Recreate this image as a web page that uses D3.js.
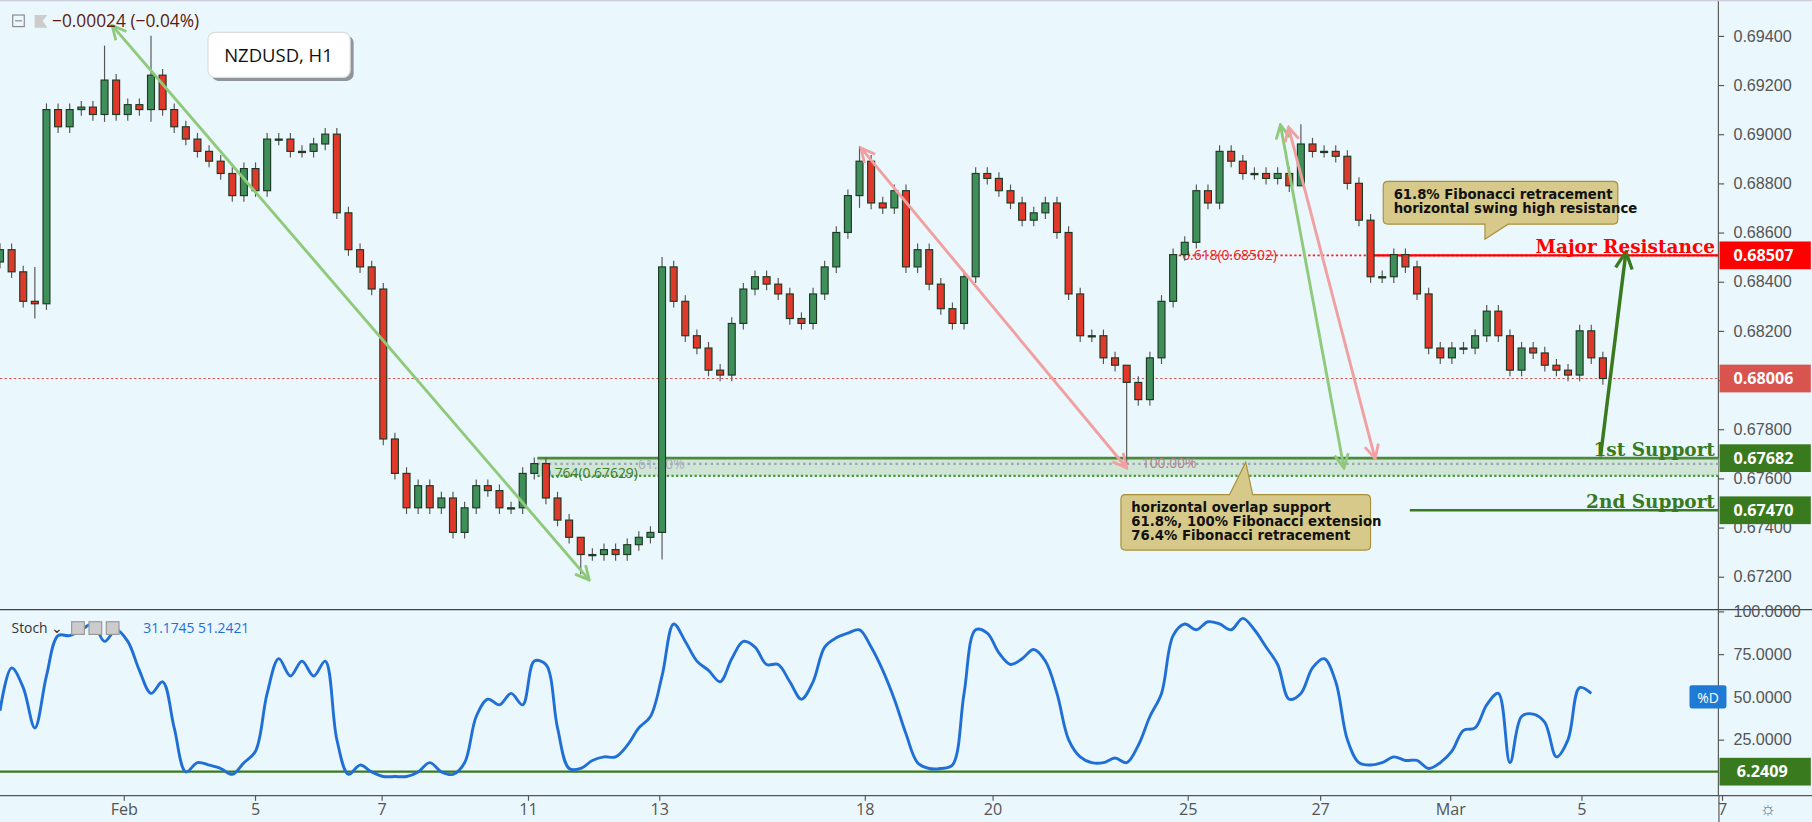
<!DOCTYPE html><html><head><meta charset="utf-8"><script src="https://cdn.jsdelivr.net/npm/d3@7"></script>
<style>body{margin:0;background:#eaf7fd;}svg{display:block;font-family:"Open Sans",sans-serif;}</style></head><body><svg id="c" width="1812" height="822"></svg><script>
const closes=[0.6853,0.6844,0.6832,0.6831,0.6910,0.6903,0.6910,0.6911,0.6908,0.6922,0.6908,0.6912,0.6910,0.6924,0.6910,0.6903,0.6898,0.6893,0.6889,0.6884,0.6875,0.6886,0.6877,0.6898,0.6898,0.6893,0.6893,0.6896,0.6900,0.6868,0.6853,0.6846,0.6837,0.6776,0.6762,0.6748,0.6757,0.6748,0.6752,0.6738,0.6748,0.6757,0.6755,0.6748,0.6748,0.6762,0.6766,0.6752,0.6743,0.6736,0.6729,0.6729,0.6731,0.6729,0.6733,0.6736,0.6738,0.6846,0.6832,0.6818,0.6813,0.6804,0.6802,0.6823,0.6837,0.6842,0.6839,0.6835,0.6825,0.6823,0.6835,0.6846,0.6860,0.6875,0.6889,0.6872,0.6870,0.6877,0.6846,0.6853,0.6839,0.6829,0.6823,0.6842,0.6884,0.6882,0.6877,0.6872,0.6865,0.6868,0.6872,0.6860,0.6835,0.6818,0.6818,0.6809,0.6806,0.6799,0.6792,0.6809,0.6832,0.6851,0.6856,0.6877,0.6872,0.6893,0.6889,0.6884,0.6884,0.6882,0.6884,0.6879,0.6896,0.6893,0.6893,0.6891,0.6880,0.6865,0.6842,0.6842,0.6851,0.6846,0.6835,0.6813,0.6809,0.6813,0.6813,0.6818,0.6828,0.6818,0.6804,0.6813,0.6811,0.6806,0.6804,0.6802,0.6820,0.6809,0.68006];
const firstOpen=0.6848;
const extremes=[[3,0.6846,0.6825],[9,0.6936,0.6905],[13,0.6940,0.6905],[50,0.6736,0.6721],[57,0.6850,0.6727],[74,0.6895,0.6870],[97,0.6803,0.6766],[112,0.6904,0.6888]];
const stoch=[41.9,66.9,55.4,31.8,62.2,85.8,85.8,89.2,92.6,82.4,89.2,82.4,65.5,52.0,58.8,31.8,6.1,11.5,10.1,8.1,4.7,11.5,18.2,52.0,72.3,62.2,70.9,62.2,70.9,25.0,4.7,10.1,6.1,3.4,3.4,3.4,6.1,11.5,6.1,4.7,11.5,38.5,48.6,45.3,52.0,45.3,70.9,68.9,31.8,8.1,8.1,12.8,14.9,14.9,21.6,31.8,38.5,62.2,92.6,82.4,70.9,65.5,58.8,72.3,82.4,79.1,68.9,68.9,58.8,48.6,58.8,79.1,84.5,87.2,89.2,79.1,65.5,48.6,28.4,11.5,8.1,8.1,10.1,52.0,89.2,87.2,75.7,68.9,72.3,77.7,70.9,52.0,25.0,14.9,11.5,11.5,14.2,11.5,21.6,38.5,52.0,85.8,92.6,89.2,93.9,92.6,89.2,95.9,89.2,79.1,68.9,48.6,52.0,66.9,72.3,58.8,25.0,11.5,10.1,11.5,14.9,12.8,12.8,8.1,11.5,18.2,30.4,31.8,45.3,52.0,11.5,38.5,39.9,35.1,14.9,25.0,55.4,52.0];
const priceTicks=[0.694,0.692,0.690,0.688,0.686,0.684,0.682,0.680,0.678,0.676,0.674,0.672];
const stochTicks=[100,75,50,25];
const timeTicks=[["Feb",10.7],["5",22],["7",32.9],["11",45.5],["13",56.8],["18",74.5],["20",85.5],["25",102.3],["27",113.7],["Mar",124.9],["5",136.2],["7",148.3]];
const levels={resistance:0.68507,current:0.68006,sup1:0.67682,sup2:0.67470,fib764:0.67629,fib618:0.68502};

const svg=d3.select("#c").append("g").attr("transform","scale(1.1556)");
const x=d3.scaleLinear().domain([0,137]).range([0,1377]);
const y=d3.scaleLinear().domain([0.672,0.694]).range([499,31]);
const ys=d3.scaleLinear().domain([0,100]).range([677,529]);
svg.append("rect").attr("width",1812).attr("height",822).attr("fill","#eaf7fd");
svg.append("line").attr("x1",1487).attr("x2",1487).attr("y1",0).attr("y2",688).attr("stroke","#555");
svg.append("line").attr("x1",0).attr("x2",1812).attr("y1",527.5).attr("y2",527.5).attr("stroke","#444");
svg.append("line").attr("x1",0).attr("x2",1812).attr("y1",688.5).attr("y2",688.5).attr("stroke","#555");
svg.append("line").attr("x1",1487.5).attr("x2",1487.5).attr("y1",688).attr("y2",712).attr("stroke","#555");
svg.append("line").attr("x1",0).attr("x2",1812).attr("y1",0.5).attr("y2",0.5).attr("stroke","#ccd");
svg.append("g").attr("transform","translate(1487,0)").call(d3.axisRight(y).tickValues(priceTicks).tickFormat(d3.format(".5f")).tickSize(5))
 .call(g=>{g.select(".domain").remove();g.selectAll("text").attr("font-size",14).attr("fill","#555").attr("x",13);g.selectAll("line").attr("stroke","#555");});
svg.append("g").attr("transform","translate(1487,0)").call(d3.axisRight(ys).tickValues(stochTicks).tickFormat(d3.format(".4f")).tickSize(5))
 .call(g=>{g.select(".domain").remove();g.selectAll("text").attr("font-size",14).attr("fill","#555").attr("x",13);g.selectAll("line").attr("stroke","#555");});
const tg=svg.append("g");
timeTicks.forEach(([t,i])=>{tg.append("line").attr("x1",x(i)).attr("x2",x(i)).attr("y1",688).attr("y2",693).attr("stroke","#555");
 tg.append("text").attr("x",x(i)).attr("y",705).attr("text-anchor","middle").attr("font-size",14).attr("fill","#555").text(t);});
svg.append("text").attr("x",1530).attr("y",705).attr("text-anchor","middle").attr("font-size",16).attr("fill","#666").text("☼");

const z=svg.append("g");
z.append("rect").attr("x",465).attr("y",y(levels.sup1)).attr("width",1487-465).attr("height",y(levels.fib764)-y(levels.sup1)+4).attr("fill","#cfe5d6");
z.append("line").attr("x1",465).attr("x2",1487).attr("y1",y(levels.sup1)).attr("y2",y(levels.sup1)).attr("stroke","#4a8a3a").attr("stroke-width",2.5);
z.append("line").attr("x1",465).attr("x2",1487).attr("y1",y(levels.sup1)+5).attr("y2",y(levels.sup1)+5).attr("stroke","#9aa3b3").attr("stroke-width",2).attr("stroke-dasharray","2,3");
z.append("line").attr("x1",465).attr("x2",1487).attr("y1",y(levels.fib764)+4).attr("y2",y(levels.fib764)+4).attr("stroke","#4a9a3a").attr("stroke-width",2).attr("stroke-dasharray","2,2");
z.append("text").attr("x",470).attr("y",414).attr("font-size",12).attr("fill","#3f7f26").text("0.764(0.67629)");
z.append("text").attr("x",552).attr("y",406).attr("font-size",12).attr("fill","#a8adbd").text("61.80%");
z.append("text").attr("x",988).attr("y",405).attr("font-size",12).attr("fill","#b08090").text("100.00%");
svg.append("line").attr("x1",1220).attr("x2",1487).attr("y1",y(levels.sup2)).attr("y2",y(levels.sup2)).attr("stroke","#3a7a1e").attr("stroke-width",2);
svg.append("line").attr("x1",0).attr("x2",1487).attr("y1",y(levels.current)).attr("y2",y(levels.current)).attr("stroke","#d9534f").attr("stroke-dasharray","2,2");
svg.append("line").attr("x1",1020).attr("x2",1487).attr("y1",y(levels.resistance)).attr("y2",y(levels.resistance)).attr("stroke","#f22").attr("stroke-width",1.5).attr("stroke-dasharray","2,2");
svg.append("line").attr("x1",1185).attr("x2",1487).attr("y1",y(levels.resistance)).attr("y2",y(levels.resistance)).attr("stroke","#f00").attr("stroke-width",2);
svg.append("text").attr("x",1023).attr("y",y(levels.resistance)+4).attr("font-size",12).attr("fill","#e22").text("0.618(0.68502)");

const cd=closes.map((c,i)=>{const o=i?closes[i-1]:firstOpen;let h=Math.max(o,c)+0.00025,l=Math.min(o,c)-0.00025;
 const e=extremes.find(d=>d[0]===i);if(e){h=e[1];l=e[2];}return {i,o,c,h,l};});
const cg=svg.append("g");
cg.selectAll("line").data(cd).join("line").attr("x1",d=>x(d.i)).attr("x2",d=>x(d.i)).attr("y1",d=>y(d.h)).attr("y2",d=>y(d.l)).attr("stroke","#555");
cg.selectAll("rect").data(cd).join("rect").attr("x",d=>x(d.i)-3).attr("width",6).attr("y",d=>y(Math.max(d.o,d.c))).attr("height",d=>Math.max(1,Math.abs(y(d.o)-y(d.c))))
 .attr("fill",d=>d.c>=d.o?"#3f8f5a":"#e0392b").attr("stroke","#1e3a24").attr("stroke-width",1);

const defs=svg.append("defs");
function marker(id,col){defs.append("marker").attr("id",id).attr("viewBox","0 0 10 10").attr("refX",9).attr("refY",5).attr("markerWidth",6).attr("markerHeight",6).attr("orient","auto-start-reverse")
 .append("path").attr("d","M1,1 L9,5 L1,9").attr("fill","none").attr("stroke",col).attr("stroke-width",1.6);}
marker("mg","#8fc97a");marker("mr","#f0a0a0");marker("md","#3a7a1e");
function arrow(x1,y1,x2,y2,col,m,both,w){const l=svg.append("line").attr("x1",x1).attr("y1",y1).attr("x2",x2).attr("y2",y2).attr("stroke",col).attr("stroke-width",w||2.5).attr("marker-end",`url(#${m})`);if(both)l.attr("marker-start",`url(#${m})`);}
arrow(97,22,510,502,"#8fc97a","mg",true);
arrow(745,128,975,405,"#f0a0a0","mr",true);
arrow(1108,108,1163,405,"#8fc97a","mg",true);
arrow(1115,110,1190,397,"#f0a0a0","mr",true);
arrow(1385,395,1407,218,"#3a7a1e","md",false,3);

svg.append("text").attr("x",1484).attr("y",219).attr("text-anchor","end").attr("font-family","DejaVu Serif").attr("font-weight","bold").attr("font-size",16).attr("fill","#f00").text("Major Resistance");
svg.append("text").attr("x",1484).attr("y",395).attr("text-anchor","end").attr("font-family","DejaVu Serif").attr("font-weight","bold").attr("font-size",16).attr("fill","#3a7a1e").text("1st Support");
svg.append("text").attr("x",1484).attr("y",440).attr("text-anchor","end").attr("font-family","DejaVu Serif").attr("font-weight","bold").attr("font-size",16).attr("fill","#3a7a1e").text("2nd Support");
function tag(v,yy,col){svg.append("rect").attr("x",1488).attr("y",yy-12).attr("width",79).attr("height",24).attr("fill",col);
 svg.append("text").attr("x",1500).attr("y",yy+5).attr("font-size",14).attr("font-weight","bold").attr("fill","#fff").text(v);}
tag("0.68507",y(levels.resistance),"#f00");tag("0.68006",y(levels.current),"#d9534f");tag("0.67682",y(levels.sup1),"#3a7a1e");tag("0.67470",y(levels.sup2),"#3a7a1e");

function callout(x0,y0,w,h,px,py,tx,lines,up){const p=up?`M${x0+4},${y0} L${tx-8},${y0} L${px},${py} L${tx+12},${y0} L${x0+w-4},${y0} Q${x0+w},${y0} ${x0+w},${y0+4} L${x0+w},${y0+h-4} Q${x0+w},${y0+h} ${x0+w-4},${y0+h} L${x0+4},${y0+h} Q${x0},${y0+h} ${x0},${y0+h-4} L${x0},${y0+4} Q${x0},${y0} ${x0+4},${y0}Z`
 :`M${x0+4},${y0} L${x0+w-4},${y0} Q${x0+w},${y0} ${x0+w},${y0+4} L${x0+w},${y0+h-4} Q${x0+w},${y0+h} ${x0+w-4},${y0+h} L${tx+12},${y0+h} L${px},${py} L${tx-8},${y0+h} L${x0+4},${y0+h} Q${x0},${y0+h} ${x0},${y0+h-4} L${x0},${y0+4} Q${x0},${y0} ${x0+4},${y0}Z`;
 svg.append("path").attr("d",p).attr("fill","#d6c98a").attr("stroke","#a8913a");
 lines.forEach((t,k)=>svg.append("text").attr("x",x0+9).attr("y",y0+15+k*12).attr("font-size",11.5).attr("font-weight","bold").attr("font-family","DejaVu Sans").attr("fill","#111").text(t));}
callout(1197,157,203,37,1285,207,1293,["61.8% Fibonacci retracement","horizontal swing high resistance"],false);
callout(970,428,216,48,1078,400,1072,["horizontal overlap support","61.8%, 100% Fibonacci extension","76.4% Fibonacci retracement"],true);
svg.append("rect").attr("x",183).attr("y",31).attr("width",123).attr("height",39).attr("rx",6).attr("fill","#333").attr("opacity",0.5);
svg.append("rect").attr("x",180).attr("y",28).attr("width",123).attr("height",39).attr("rx",6).attr("fill","#fff").attr("stroke","#ddd");
svg.append("text").attr("x",194).attr("y",54).attr("font-size",16).attr("fill","#111").text("NZDUSD, H1");
svg.append("rect").attr("x",11).attr("y",13).attr("width",10).attr("height",10).attr("fill","none").attr("stroke","#888");
svg.append("line").attr("x1",13).attr("x2",19).attr("y1",18).attr("y2",18).attr("stroke","#888");
svg.append("path").attr("d","M30,13 L41,13 L37,18 L41,24 L30,24Z").attr("fill","#ccc");
svg.append("text").attr("x",45).attr("y",23).attr("font-size",15).attr("fill","#5a1a10").text("−0.00024 (−0.04%)");

svg.append("line").attr("x1",0).attr("x2",1487).attr("y1",ys(6.2409)).attr("y2",ys(6.2409)).attr("stroke","#3a7a1e").attr("stroke-width",2);
svg.append("path").datum(stoch).attr("d",d3.line().x((d,i)=>x(i)).y(d=>ys(d)).curve(d3.curveCatmullRom)).attr("fill","none").attr("stroke","#1f6fd6").attr("stroke-width",2.5);
svg.append("rect").attr("x",1488).attr("y",ys(6.2409)-12).attr("width",79).attr("height",24).attr("fill","#3a7a1e");
svg.append("text").attr("x",1503).attr("y",ys(6.2409)+5).attr("font-size",14).attr("font-weight","bold").attr("fill","#fff").text("6.2409");
svg.append("rect").attr("x",1462).attr("y",593).attr("width",32).attr("height",20).attr("rx",2).attr("fill","#1f7ad6");
svg.append("text").attr("x",1478).attr("y",608).attr("text-anchor","middle").attr("font-size",12).attr("fill","#fff").text("%D");
svg.append("text").attr("x",10).attr("y",548).attr("font-size",12).attr("fill","#333").text("Stoch ⌄");
[62,77,92].forEach(xx=>svg.append("rect").attr("x",xx).attr("y",538).attr("width",11).attr("height",11).attr("fill","#ccc").attr("stroke","#999"));
svg.append("text").attr("x",124).attr("y",548).attr("font-size",12).attr("fill","#1f6fd6").text("31.1745  51.2421");
</script></body></html>
